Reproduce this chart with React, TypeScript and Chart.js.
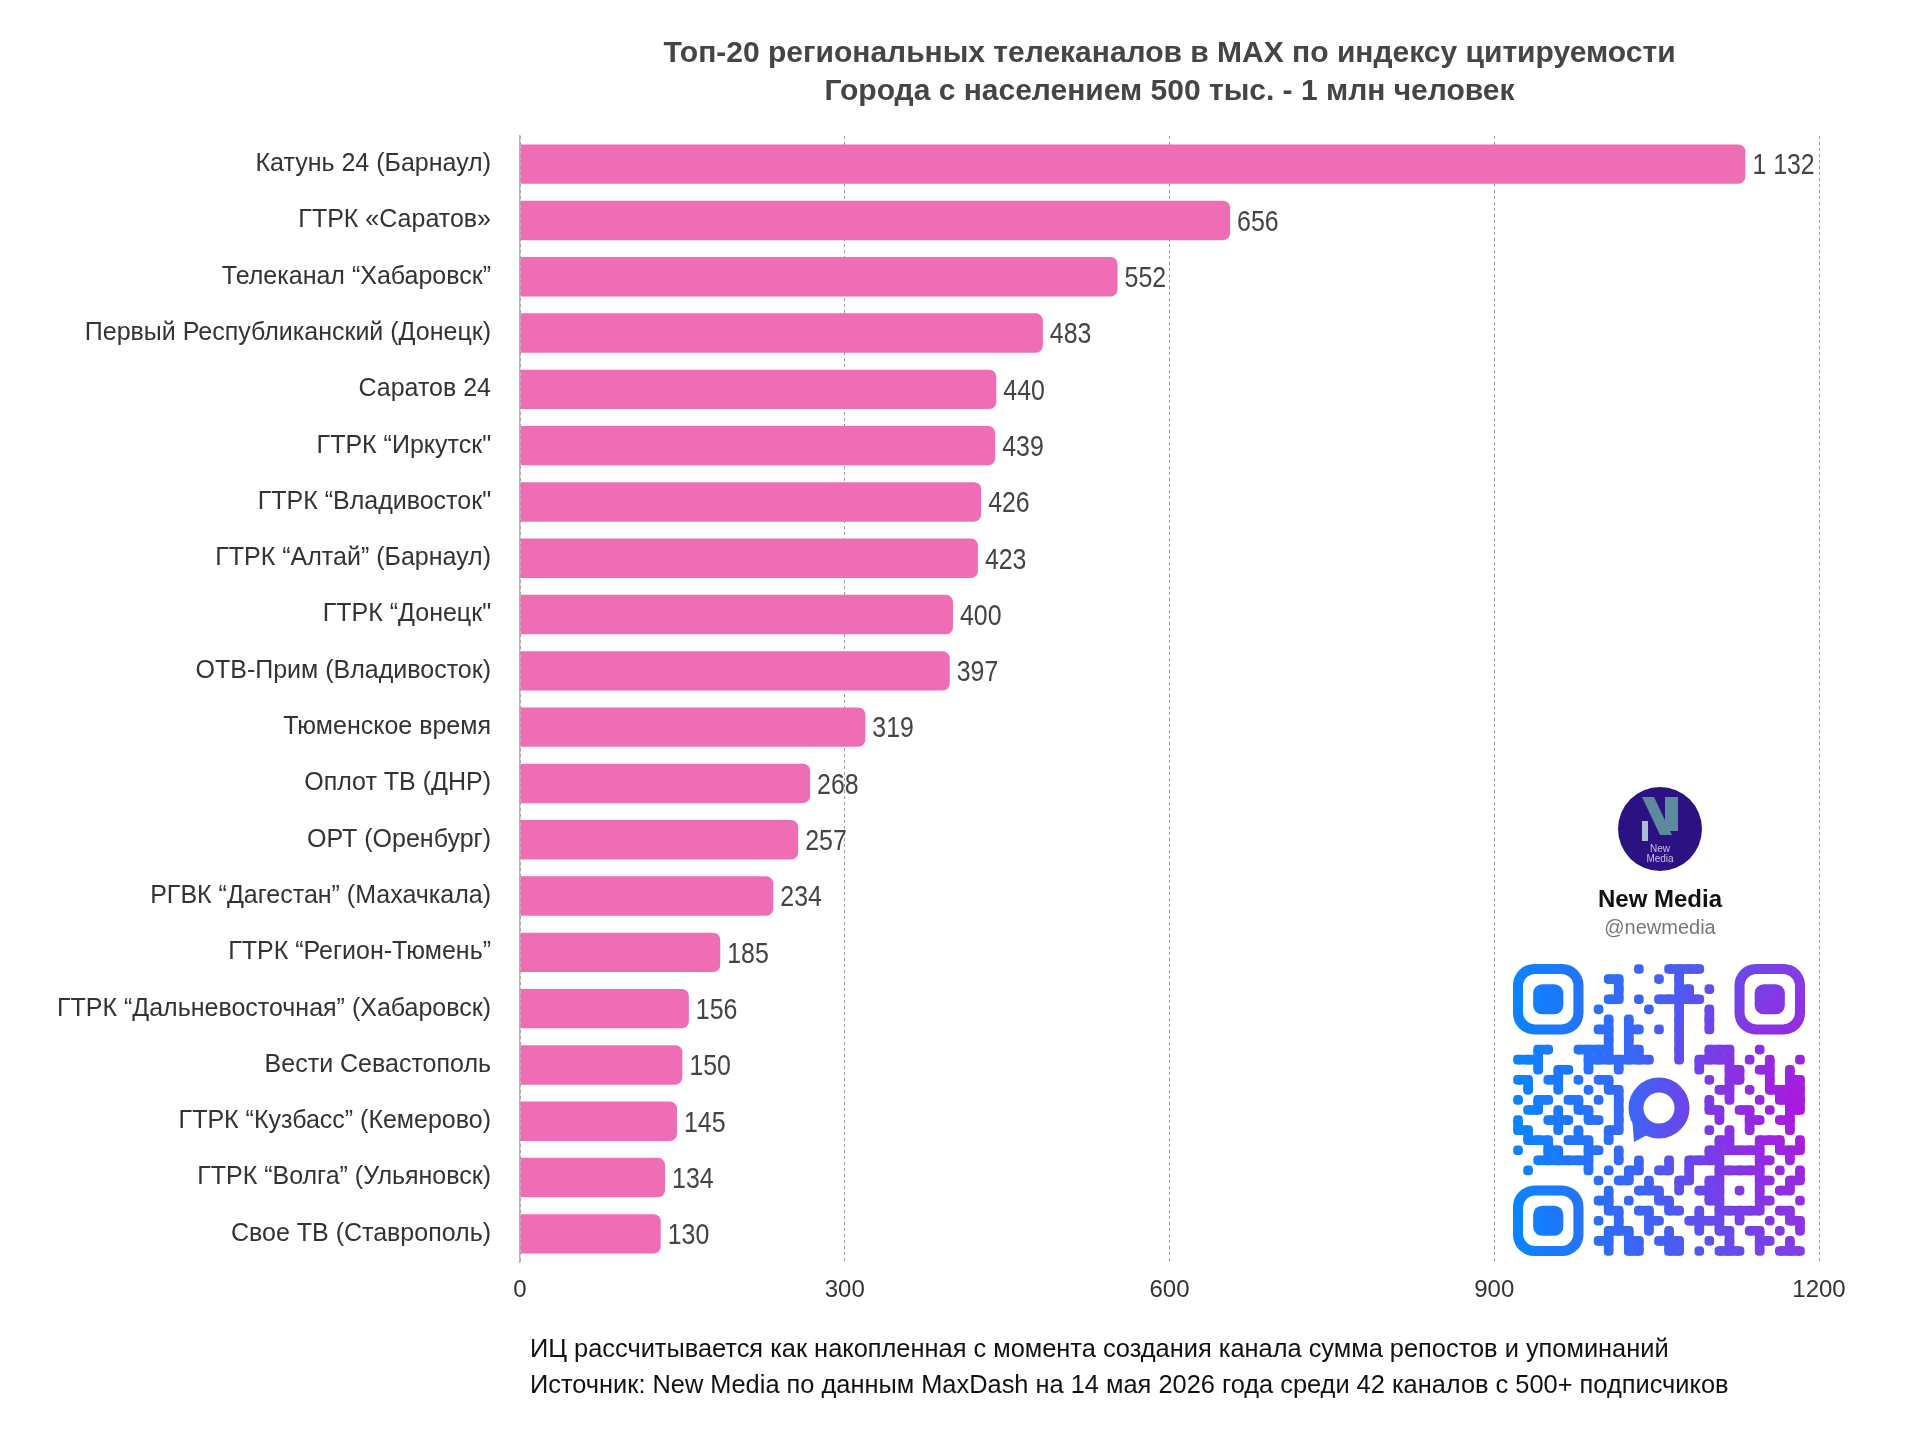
import React, { useEffect, useRef } from "react";
import { Chart, registerables } from "chart.js";

Chart.register(...registerables);

const channels: string[] = [
  "Катунь 24 (Барнаул)",
  "ГТРК «Саратов»",
  "Телеканал “Хабаровск”",
  "Первый Республиканский (Донецк)",
  "Саратов 24",
  "ГТРК “Иркутск\"",
  "ГТРК “Владивосток\"",
  "ГТРК “Алтай” (Барнаул)",
  "ГТРК “Донецк\"",
  "ОТВ-Прим (Владивосток)",
  "Тюменское время",
  "Оплот ТВ (ДНР)",
  "ОРТ (Оренбург)",
  "РГВК “Дагестан” (Махачкала)",
  "ГТРК “Регион-Тюмень”",
  "ГТРК “Дальневосточная” (Хабаровск)",
  "Вести Севастополь",
  "ГТРК “Кузбасс” (Кемерово)",
  "ГТРК “Волга” (Ульяновск)",
  "Свое ТВ (Ставрополь)",
];

const citationIndex: number[] = [
  1132, 656, 552, 483, 440, 439, 426, 423, 400, 397, 319, 268, 257, 234, 185, 156, 150, 145, 134, 130,
];

const xTicks: number[] = [0, 300, 600, 900, 1200];

const titleLines: string[] = [
  "Топ-20 региональных телеканалов в MAX по индексу цитируемости",
  "Города с населением 500 тыс. - 1 млн человек",
];

const footnotes: string[] = [
  "ИЦ рассчитывается как накопленная с момента создания канала сумма репостов и упоминаний",
  "Источник: New Media по данным MaxDash на 14 мая 2026 года среди 42 каналов с 500+ подписчиков",
];

const brandName = "New Media";
const brandHandle = "@newmedia";

// decorative QR code pattern (29x29)
const qrRows: string[] = [
  "1111111" + "0" + "0000100111100" + "0" + "1111111",
  "1000001" + "0" + "0110001010000" + "0" + "1000001",
  "1011101" + "0" + "0010000011010" + "0" + "1011101",
  "1011101" + "0" + "0110101111100" + "0" + "1011101",
  "1011101" + "0" + "1000010010010" + "0" + "1011101",
  "1000001" + "0" + "0101000010010" + "0" + "1000001",
  "1111111" + "0" + "1101101010010" + "0" + "1111111",
  "0000000" + "0" + "0101000010000" + "0" + "0000000",
  "00110011110110001001110010000",
  "11100001111111001011110101001",
  "00101101001000000010011011010",
  "11011010110000000001011001011",
  "01001001011000000000110101111",
  "10110110101000000001010010111",
  "01101011001000000001101101011",
  "10011101101000000000100110110",
  "11001010011000000001010100010",
  "01110111010000000000110011101",
  "10011001101000000001111110111",
  "00111111001010010111100011010",
  "01000001010110110100111110101",
  "00000000101101001101100011011",
  "1111111" + "0" + "010011101011" + "10101" + "0110",
  "1000001" + "0" + "110100110001" + "10001" + "1001",
  "1011101" + "0" + "011011011010" + "11111" + "0110",
  "1011101" + "0" + "101001100111" + "10100" + "1011",
  "1011101" + "0" + "011101010010" + "11011" + "0101",
  "1000001" + "0" + "110110111001" + "01001" + "1010",
  "1111111" + "0" + "010110011010" + "11101" + "0111",
];

const W = 1910;
const H = 1456;
const SANS = '"Liberation Sans", Arial, Helvetica, sans-serif';

function fmt(v: number): string {
  return String(v).replace(/\B(?=(\d{3})+(?!\d))/g, " ");
}

function drawQR(ctx: CanvasRenderingContext2D, x0: number, y0: number, size: number) {
  const n = qrRows.length;
  const m = size / n;
  const off = document.createElement("canvas");
  off.width = Math.ceil(size) + 2;
  off.height = Math.ceil(size) + 2;
  const o = off.getContext("2d") as CanvasRenderingContext2D;
  o.fillStyle = "#000";
  function inFinder(r: number, c: number) {
    return (r < 7 && c < 7) || (r < 7 && c > n - 8) || (r > n - 8 && c < 7);
  }
  const dark = (r: number, c: number) =>
    r >= 0 && c >= 0 && r < n && c < n && qrRows[r][c] === "1" && !inFinder(r, c);
  for (let r = 0; r < n; r++) {
    for (let c = 0; c < n; c++) {
      if (!dark(r, c)) continue;
      const x = c * m;
      const y = r * m;
      o.beginPath();
      o.roundRect(x + 0.2, y + 0.2, m - 0.4, m - 0.4, m * 0.38);
      o.fill();
      if (dark(r, c + 1)) o.fillRect(x + m / 2, y + 0.2, m, m - 0.4);
      if (dark(r + 1, c)) o.fillRect(x + 0.2, y + m / 2, m - 0.4, m);
    }
  }
  const finders = [
    [0, 0],
    [0, n - 7],
    [n - 7, 0],
  ];
  for (const [fr, fc] of finders) {
    const x = fc * m;
    const y = fr * m;
    o.globalCompositeOperation = "source-over";
    o.beginPath();
    o.roundRect(x, y, 7 * m, 7 * m, 2.1 * m);
    o.fill();
    o.globalCompositeOperation = "destination-out";
    o.beginPath();
    o.roundRect(x + m, y + m, 5 * m, 5 * m, 1.2 * m);
    o.fill();
    o.globalCompositeOperation = "source-over";
    o.beginPath();
    o.roundRect(x + 2 * m, y + 2 * m, 3 * m, 3 * m, 0.9 * m);
    o.fill();
  }
  // centre messenger ring
  const cx = size / 2;
  const cy = size / 2 - 2;
  o.beginPath();
  o.arc(cx, cy, 23, 0, Math.PI * 2);
  o.lineWidth = 15;
  o.strokeStyle = "#000";
  o.stroke();
  o.beginPath();
  o.moveTo(cx - 27, cy + 8);
  o.lineTo(cx - 10, cy + 26);
  o.lineTo(cx - 25, cy + 34);
  o.closePath();
  o.fill();
  // colour
  o.globalCompositeOperation = "source-in";
  const g = o.createLinearGradient(0, 0, size, 0);
  g.addColorStop(0, "#0a84ff");
  g.addColorStop(0.55, "#4a5cf2");
  g.addColorStop(1, "#7a45e6");
  o.fillStyle = g;
  o.fillRect(0, 0, off.width, off.height);
  o.globalCompositeOperation = "source-atop";
  const rg = o.createRadialGradient(size, size * 0.5, 0, size, size * 0.5, size * 0.6);
  rg.addColorStop(0, "rgba(175,20,220,0.95)");
  rg.addColorStop(1, "rgba(175,20,220,0)");
  o.fillStyle = rg;
  o.fillRect(0, 0, off.width, off.height);
  ctx.drawImage(off, x0, y0);
}

const decorPlugin = {
  id: "decor",
  afterDraw(chart: any) {
    const ctx: CanvasRenderingContext2D = chart.ctx;
    const area = chart.chartArea;
    ctx.save();
    // title
    const cxTitle = (area.left + area.right) / 2;
    ctx.fillStyle = "#454545";
    ctx.font = `bold 30px ${SANS}`;
    ctx.textAlign = "center";
    ctx.textBaseline = "alphabetic";
    ctx.fillText(titleLines[0], cxTitle, 62);
    ctx.fillText(titleLines[1], cxTitle, 100);
    // footnotes
    ctx.fillStyle = "#111";
    ctx.font = `25.4px ${SANS}`;
    ctx.textAlign = "left";
    ctx.textBaseline = "middle";
    ctx.fillText(footnotes[0], area.left + 10, 1350);
    ctx.fillText(footnotes[1], area.left + 10, 1386);

    // brand block
    const bx = 1660;
    const by = 829;
    ctx.beginPath();
    ctx.arc(bx, by, 42, 0, Math.PI * 2);
    ctx.fillStyle = "#2c1183";
    ctx.fill();
    ctx.fillStyle = "#5d8a9c";
    ctx.beginPath();
    ctx.moveTo(bx - 18, by - 32);
    ctx.lineTo(bx - 6, by - 32);
    ctx.lineTo(bx + 12, by + 6);
    ctx.lineTo(bx, by + 6);
    ctx.closePath();
    ctx.fill();
    ctx.fillRect(bx + 5, by - 32, 13, 34);
    ctx.fillStyle = "#a6c0cd";
    ctx.fillRect(bx - 18, by - 8, 6, 20);
    ctx.fillStyle = "#c8bce8";
    ctx.font = `10px ${SANS}`;
    ctx.textAlign = "center";
    ctx.textBaseline = "middle";
    ctx.fillText("New", bx, by + 20);
    ctx.fillText("Media", bx, by + 30);

    ctx.fillStyle = "#111";
    ctx.font = `bold 24px ${SANS}`;
    ctx.textBaseline = "alphabetic";
    ctx.fillText(brandName, bx, 907);
    ctx.fillStyle = "#777";
    ctx.font = `20px ${SANS}`;
    ctx.textBaseline = "middle";
    ctx.fillText(brandHandle, bx, 928);

    drawQR(ctx, 1513, 964, 292);
    ctx.restore();
  },
};

const valueLabels = {
  id: "valueLabels",
  afterDatasetsDraw(chart: any) {
    const ctx: CanvasRenderingContext2D = chart.ctx;
    const meta = chart.getDatasetMeta(0);
    const data = chart.data.datasets[0].data as number[];
    const sx = 0.83;
    ctx.save();
    ctx.fillStyle = "#444";
    ctx.font = `30px ${SANS}`;
    ctx.textAlign = "left";
    ctx.textBaseline = "middle";
    meta.data.forEach((el: any, i: number) => {
      ctx.save();
      ctx.translate(el.x + 7, el.y + 2);
      ctx.scale(sx, 1);
      ctx.fillText(fmt(data[i]), 0, 0);
      ctx.restore();
    });
    ctx.restore();
  },
};

export default function App() {
  const ref = useRef<HTMLCanvasElement | null>(null);
  useEffect(() => {
    document.body.style.margin = "0";
    document.body.style.background = "#fff";
    const canvas = ref.current as HTMLCanvasElement;
    const chart = new Chart(canvas, {
      type: "bar",
      data: {
        labels: channels,
        datasets: [
          {
            data: citationIndex,
            backgroundColor: "#ef6db5",
            borderRadius: 7,
            borderSkipped: "start",
            barPercentage: 0.7,
            categoryPercentage: 1,
          },
        ],
      },
      options: {
        indexAxis: "y",
        animation: false,
        responsive: false,
        devicePixelRatio: 1,
        layout: { padding: { left: 0, right: 91, top: 136, bottom: 144 } },
        plugins: {
          legend: { display: false },
          title: { display: false },
          tooltip: { enabled: false },
        },
        scales: {
          x: {
            min: 0,
            max: 1200,
            afterFit: (s: any) => {
              s.height = 50;
            },
            afterBuildTicks: (s: any) => {
              s.ticks = xTicks.map((v) => ({ value: v }));
            },
            grid: { color: "#9a9a9a", lineWidth: 1, drawTicks: false },
            border: { display: false, dash: [3, 3] },
            ticks: {
              padding: 14,
              color: "#333",
              font: { family: SANS, size: 24 },
              callback: (v: any) => String(v),
            },
          },
          y: {
            afterFit: (s: any) => {
              s.width = 520;
            },
            grid: { display: false, drawTicks: false },
            border: { display: true, color: "#b5b5b5", width: 1.5 },
            ticks: {
              padding: 29,
              color: "#333",
              font: { family: SANS, size: 25 },
              autoSkip: false,
            },
          },
        },
      },
      plugins: [valueLabels, decorPlugin],
    });
    return () => chart.destroy();
  }, []);
  return (
    <div style={{ width: W, height: H, background: "#fff" }}>
      <canvas ref={ref} width={W} height={H} style={{ width: W, height: H, display: "block" }} />
    </div>
  );
}
